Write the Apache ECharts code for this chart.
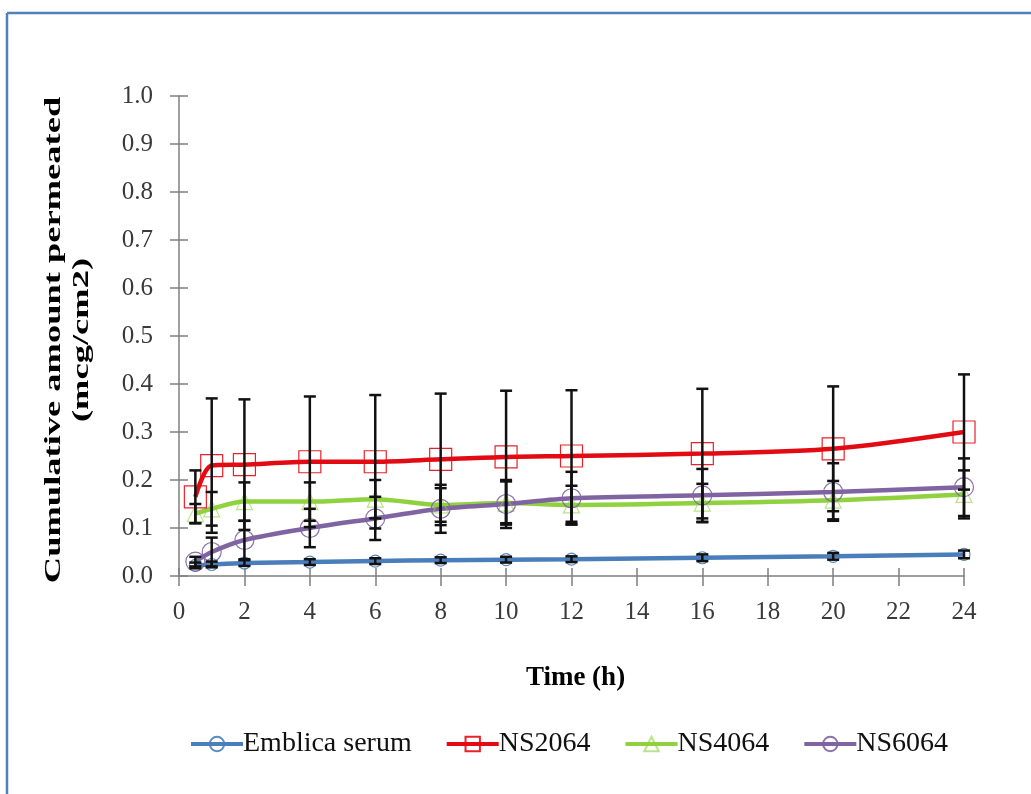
<!DOCTYPE html>
<html>
<head>
<meta charset="utf-8">
<script src="https://cdn.jsdelivr.net/npm/echarts@6/dist/echarts.min.js"></script>
<style>
  html, body { margin: 0; padding: 0; background: #ffffff; }
  #chart { width: 1031px; height: 794px; }
</style>
</head>
<body>
<div id="chart"></div>
<script>
// Sampling times (h)
const times = [0.5, 1, 2, 4, 6, 8, 10, 12, 16, 20, 24];

// Mean cumulative amount permeated (mcg/cm2)
const emblicaMean = [0.022, 0.024, 0.027, 0.029, 0.031, 0.033, 0.034, 0.035, 0.038, 0.041, 0.045];
const ns2064Mean  = [0.165, 0.230, 0.232, 0.238, 0.238, 0.243, 0.248, 0.250, 0.255, 0.265, 0.300];
const ns4064Mean  = [0.130, 0.140, 0.155, 0.155, 0.160, 0.148, 0.152, 0.148, 0.152, 0.158, 0.170];
const ns6064Mean  = [0.030, 0.050, 0.075, 0.100, 0.120, 0.140, 0.150, 0.162, 0.168, 0.175, 0.185];

// Standard deviations
const emblicaSd = [0.006, 0.006, 0.006, 0.006, 0.006, 0.006, 0.006, 0.006, 0.007, 0.007, 0.008];
const ns2064Sd  = [0.055, 0.140, 0.136, 0.136, 0.139, 0.137, 0.138, 0.137, 0.135, 0.130, 0.120];
const ns4064Sd  = [0.020, 0.035, 0.040, 0.040, 0.040, 0.035, 0.045, 0.040, 0.040, 0.040, 0.050];
const ns6064Sd  = [0.010, 0.030, 0.040, 0.040, 0.045, 0.050, 0.050, 0.055, 0.055, 0.060, 0.060];

const seriesNames = ['Emblica serum', 'NS2064', 'NS4064', 'NS6064'];
const seriesColors = ['#4a7ebb', '#e30b13', '#8fd13f', '#8064a2'];
const seriesSymbols = ['circle', 'rect', 'triangle', 'circle'];
const seriesSymbolSizes = [12, 22, 16, 19];
const means = [emblicaMean, ns2064Mean, ns4064Mean, ns6064Mean];
const sds = [emblicaSd, ns2064Sd, ns4064Sd, ns6064Sd];

const yTitleLines = ['Cumulative amount permeated', '(mcg/cm2)'];

const FONT = '"Liberation Serif", "DejaVu Serif", serif';

const lineSeries = seriesNames.map((name, i) => ({
  name: name,
  type: 'line',
  smooth: 0.3,
  data: times.map((t, k) => [t, means[i][k]]),
  symbol: seriesSymbols[i],
  symbolSize: seriesSymbolSizes[i],
  showAllSymbol: true,
  lineStyle: { color: seriesColors[i], width: 4.5 },
  itemStyle: { color: 'rgba(255,255,255,0)', borderColor: seriesColors[i], borderWidth: 1.2, opacity: i === 2 ? 0.6 : 0.9 },
  z: 3
}));

// Vertical error bars (mean ± SD) with caps
const errorSeries = seriesNames.map((name, i) => ({
  name: name + ' SD',
  type: 'custom',
  data: times.map((t, k) => [t, means[i][k] - sds[i][k], means[i][k] + sds[i][k]]),
  renderItem: function (params, api) {
    const x = api.value(0);
    const lo = api.coord([x, api.value(1)]);
    const hi = api.coord([x, api.value(2)]);
    const cap = 6;
    const style = { stroke: '#111111', lineWidth: 2.5 };
    return {
      type: 'group',
      children: [
        { type: 'line', shape: { x1: lo[0], y1: lo[1], x2: hi[0], y2: hi[1] }, style: style },
        { type: 'line', shape: { x1: lo[0] - cap, y1: lo[1], x2: lo[0] + cap, y2: lo[1] }, style: style },
        { type: 'line', shape: { x1: hi[0] - cap, y1: hi[1], x2: hi[0] + cap, y2: hi[1] }, style: style }
      ]
    };
  },
  silent: true,
  z: 4
}));

const axisGray = '#7f7f7f';
const labelStyle = { fontFamily: FONT, fontSize: 25, color: '#3a3a3a' };

const option = {
  backgroundColor: '#ffffff',
  animation: false,
  grid: { left: 179, right: 67, top: 96, bottom: 218, containLabel: false },
  legend: {
    data: seriesNames,
    bottom: 31,
    left: 184,
    itemWidth: 52,
    itemHeight: 18,
    itemGap: 33,
    lineStyle: { width: 4 },
    textStyle: { fontFamily: FONT, fontSize: 28, color: '#111111', padding: [0, 0, 0, -5] }
  },
  xAxis: [
    {
      type: 'value', min: 0, max: 24, interval: 2,
      name: 'Time (h)', nameLocation: 'middle', nameGap: 89,
      nameTextStyle: { fontFamily: FONT, fontSize: 27, fontWeight: 'bold', color: '#000000', padding: [0, 0, 0, 8] },
      axisLine: { show: true, onZero: false, lineStyle: { color: axisGray, width: 1.5 } },
      axisTick: { show: true, length: 10, lineStyle: { color: axisGray, width: 1.5 } },
      axisLabel: Object.assign({ margin: 24 }, labelStyle),
      splitLine: { show: false }
    },
    {
      type: 'value', min: 0, max: 24, interval: 2, position: 'bottom',
      axisLine: { show: false },
      axisTick: { show: true, inside: true, length: 8, lineStyle: { color: axisGray, width: 1.5 } },
      axisLabel: { show: false },
      splitLine: { show: false }
    }
  ],
  yAxis: [
    {
      type: 'value', min: 0, max: 1, interval: 0.1,
      axisLine: { show: true, onZero: false, lineStyle: { color: axisGray, width: 1.5 } },
      axisTick: { show: true, length: 9, lineStyle: { color: axisGray, width: 1.5 } },
      axisLabel: Object.assign({ margin: 26, formatter: v => v.toFixed(1) }, labelStyle),
      splitLine: { show: false }
    },
    {
      type: 'value', min: 0, max: 1, interval: 0.1, position: 'left',
      axisLine: { show: false },
      axisTick: { show: true, inside: true, length: 9, lineStyle: { color: axisGray, width: 1.5 } },
      axisLabel: { show: false },
      splitLine: { show: false }
    }
  ],
  series: lineSeries.concat(errorSeries),
  graphic: [
    { type: 'line', shape: { x1: 7, y1: 13, x2: 1031, y2: 13 }, style: { stroke: '#4f81bd', lineWidth: 2.5 } },
    { type: 'line', shape: { x1: 7, y1: 13, x2: 7, y2: 794 }, style: { stroke: '#4f81bd', lineWidth: 2.5 } },
    // Y-axis title, two rotated lines, drawn tall to fit the axis height
    {
      type: 'text', x: 54, y: 340, rotation: Math.PI / 2, scaleX: 1.52,
      style: { text: yTitleLines[0], font: 'bold 24px ' + FONT, fill: '#000000', align: 'center', verticalAlign: 'middle' }
    },
    {
      type: 'text', x: 82, y: 340, rotation: Math.PI / 2, scaleX: 1.52,
      style: { text: yTitleLines[1], font: 'bold 24px ' + FONT, fill: '#000000', align: 'center', verticalAlign: 'middle' }
    }
  ]
};

const chart = echarts.init(document.getElementById('chart'), null, { renderer: 'canvas' });
chart.setOption(option);
</script>
</body>
</html>
